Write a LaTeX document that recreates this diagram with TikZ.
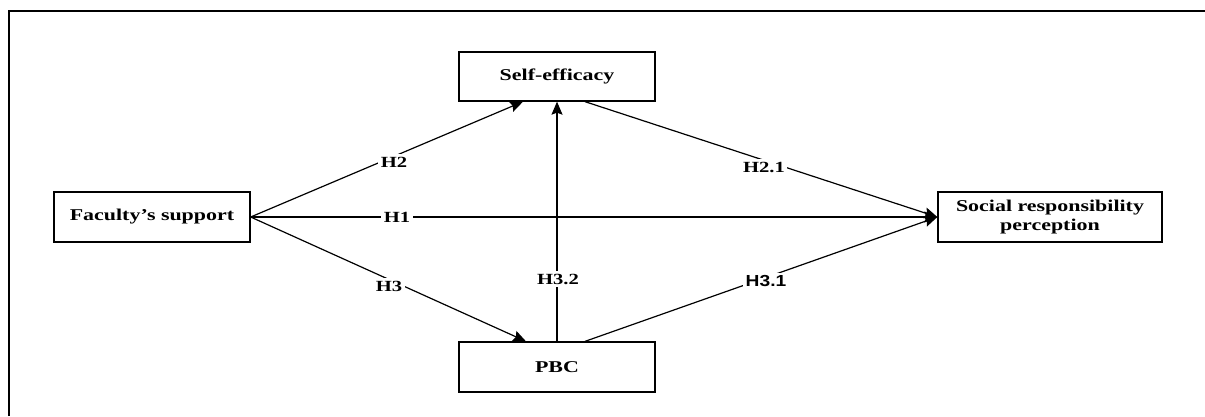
\documentclass[tikz,border=0pt]{standalone}
\usepackage{fontspec}
\usetikzlibrary{arrows.meta}
\newfontfamily\boxfont[FakeStretch=1.33]{Liberation Serif}
\newfontfamily\labsans[FakeStretch=1.2]{Liberation Sans}
\tikzset{
  box/.style={draw, line width=1.3pt, rectangle, inner sep=0pt, align=center,
    font=\boxfont\bfseries\fontsize{16.5}{19}\selectfont},
  lab/.style={fill=white, inner sep=2.5pt, font=\boxfont\bfseries\fontsize{15.5}{17}\selectfont},
  labs/.style={fill=white, inner sep=2.5pt, font=\labsans\bfseries\fontsize{16}{18}\selectfont},
  conn/.style={line width=1.2pt, -{Stealth[length=13pt,width=11pt,inset=2pt]}},
}
\begin{document}
\begin{tikzpicture}[x=1pt,y=-1pt]
\useasboundingbox (0,0) rectangle (1205,416);
\draw[line width=2pt] (9,416) -- (9,11) -- (1205,11);

\node[box, minimum width=196pt, minimum height=50pt] (fs) at (152,217) {Faculty’s support};
\node[box, minimum width=196pt, minimum height=49pt] (se) at (557,76.5) {Self-efficacy};
\node[box, minimum width=196pt, minimum height=50pt] (pbc) at (557,367) {PBC};
\node[box, minimum width=224pt, minimum height=50pt] (srp) at (1050,217) {Social responsibility\\perception};

\draw[conn] (fs.east) -- ([xshift=-34pt]se.south);
\draw[conn] (fs.east) -- (srp.west);
\draw[conn] (fs.east) -- ([xshift=-31pt]pbc.north);
\draw[conn] (pbc.north) -- (se.south);
\draw[conn] ([xshift=28pt]se.south) -- (srp.west);
\draw[conn] ([xshift=28pt]pbc.north) -- (srp.west);

\node[lab] (h2) at (394,162) {H2};
\node[lab] (h1) at (397,217) {H1};
\node[lab] (h3) at (389,286) {H3};
\node[lab] (h32) at (558,279) {H3.2};
\node[lab] (h21) at (764,167) {H2.1};
\node[labs] (h31) at (766,281) {H3.1};
\end{tikzpicture}
\end{document}
